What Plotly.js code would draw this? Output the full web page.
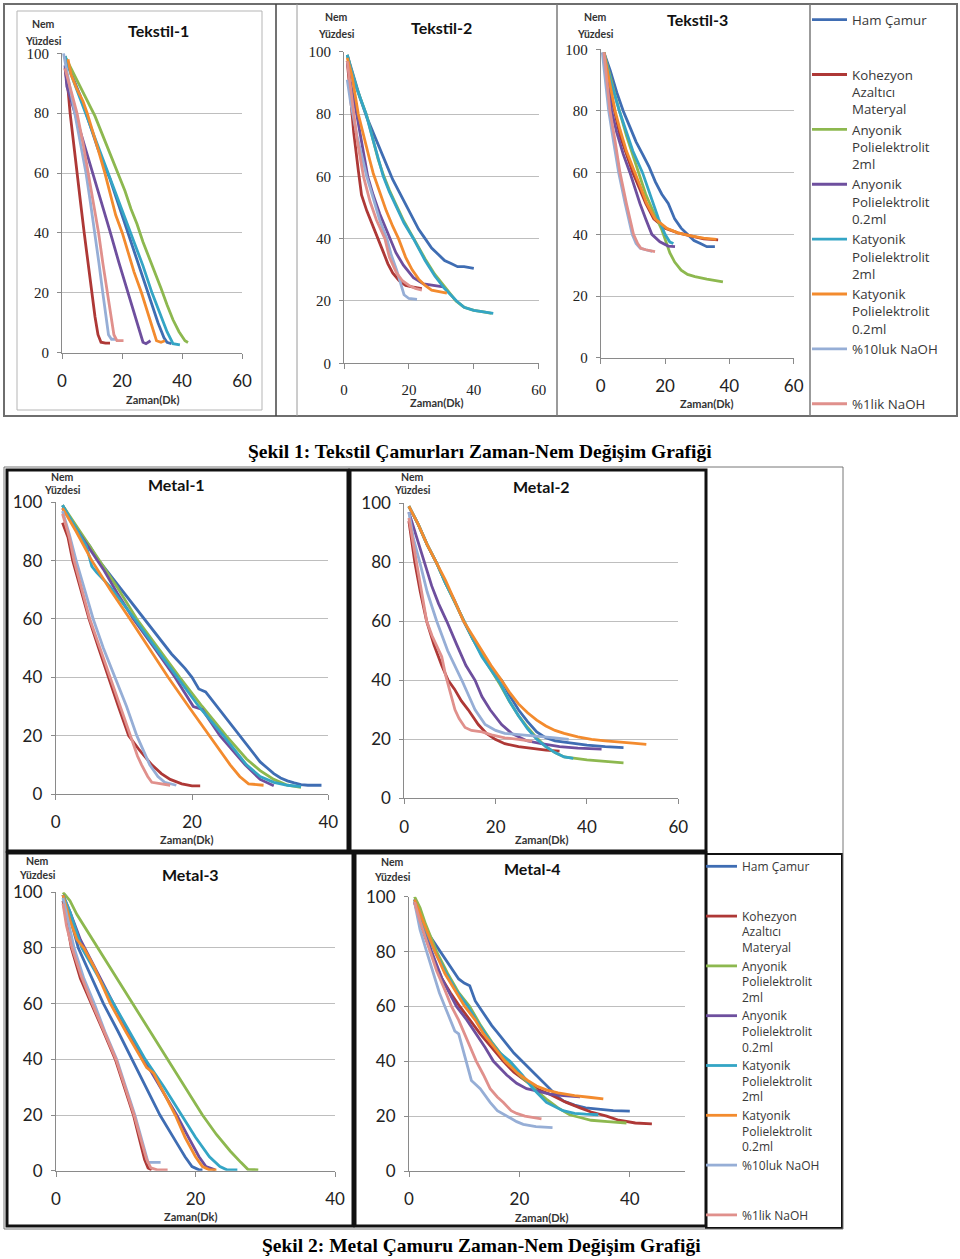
<!DOCTYPE html>
<html><head><meta charset="utf-8">
<script src="https://cdn.plot.ly/plotly-3.0.1.min.js"></script>
<style>html,body{margin:0;padding:0;background:#fff}#chart{width:960px;height:1259px}</style>
</head><body><div id="chart"></div>
<script>
// ---------- series / legend labels ----------
const seriesNames = ['Ham Çamur','Kohezyon Azaltıcı Materyal','Anyonik Polielektrolit 2ml','Anyonik Polielektrolit 0.2ml','Katyonik Polielektrolit 2ml','Katyonik Polielektrolit 0.2ml','%10luk NaOH','%1lik NaOH'];
const legendLabels = ['Ham Çamur<br> <br> ','Kohezyon<br>Azaltıcı<br>Materyal','Anyonik<br>Polielektrolit<br>2ml','Anyonik<br>Polielektrolit<br>0.2ml','Katyonik<br>Polielektrolit<br>2ml','Katyonik<br>Polielektrolit<br>0.2ml','%10luk NaOH<br> <br> ','%1lik NaOH'];
const seriesColors = ['#3F6DB3','#AE3836','#8DB84F','#6E4F9E','#34A5C5','#F38B2E','#96AED6','#E0908C'];
const panelTitles = ['Tekstil-1','Tekstil-2','Tekstil-3','Metal-1','Metal-2','Metal-3','Metal-4'];
const yTicks = [0,20,40,60,80,100];
const xTicks60 = [0,20,40,60];
const xTicks40 = [0,20,40];
const captions = ['Şekil 1: Tekstil Çamurları Zaman-Nem Değişim Grafiği','Şekil 2: Metal Çamuru Zaman-Nem Değişim Grafiği'];

// ---------- Tekstil-1 ----------
const t1_ham_x = [1,2,4,6,8,10,12,14,16,18,20,22,24,26,28,30,32,34,35,36.5];
const t1_ham_y = [99,96,91,86,80,74,68,63,58,52,46,40,34,28,22,16,10,5,3.5,3];
const t1_koh_x = [1,2,2.7,3.8,4.9,6.2,7.4,8.6,9.9,11,12,13,14.5,16];
const t1_koh_y = [95,88,80,70,60,50,40,30,20,12,6,3.5,3.2,3.2];
const t1_any2_x = [1,3,5,7,9,11,13,15,17,19,21,23,25,27,29,31,33,35,37,39,41,42];
const t1_any2_y = [99,95,91,87,83.5,79,74,69,64,59,54,48,43,37,32,27,21.5,16,11,7,4,3.4];
const t1_any02_x = [1,1.6,4,7,10,13,16,19,22,24,26,27,28,29.5];
const t1_any02_y = [96,89,81,71,61,51,40.5,30,20,13,6.5,3.5,3,4];
const t1_kat2_x = [1,3,6,9,12,15,18,21,24,27,30,33,35,37,39.3];
const t1_kat2_y = [99,93,85,77,69,61,53,45,37,29,20,12,7,3,2.6];
const t1_kat02_x = [2,3,5,7,8.4,10,12,14.3,16,17.9,20.1,22,24,26.5,28,30,31.5,33,34.3];
const t1_kat02_y = [98,93,88,84,80,75,68,60,53,46,40,34,27,20,15,9,4,3.5,4];
const t1_n10_x = [0.5,2,3,4.3,6,8,9.5,11,12.3,13.6,14.6,15.5,16.5,18.2];
const t1_n10_y = [100,92,86,80,70,60,50,40,30,20,12,6,4.5,4.5];
const t1_n1_x = [1,2.5,5,7,8.8,10.5,12.2,13.6,15.2,16.3,17.3,18.3,20.5];
const t1_n1_y = [95,89,80,70,60,50,40,30,20,12,6,4,4];

// ---------- Tekstil-2 ----------
const t2_ham_x = [1,3,5,7,9,11,13,15,17,19,21,23,25,27,29,31,33,35,37,40];
const t2_ham_y = [99,92,85,79,74,69,64,59,55,51,47,43,40,37,35,33,32,31,31,30.5];
const t2_koh_x = [1,2,3,4.4,5.4,7,9,10.6,12,13.5,15,17,19,21,24];
const t2_koh_y = [97,85,74,62,54,49,44,40,36,32,29,26.5,25,24.5,24];
const t2_any2_x = [1,2,4,7,9,10.5,12.3,14,16,18.5,21.5,25,28,31,34.5,37,40,43,45.5];
const t2_any2_y = [99,95,88,79.5,71.5,65.5,60,55.5,51,45.5,40,33.5,28.5,24.5,20,18,17,16.5,16];
const t2_any02_x = [1,2,3.9,5.5,7.3,9,11,13,14.2,16,18.3,21.4,24.5,27,30.6];
const t2_any02_y = [97,90,80,70,60,54,48,43,40,35.5,31.5,27.5,25.5,25,24.5];
const t2_kat2_x = [1,2,4,6.8,9,10.5,12.1,14,16,18.5,21.4,25,28,31,34.7,37,40,43,46];
const t2_kat2_y = [99,95,88,80,71.5,65.5,60,55,50.5,45,40,33,28,24,20,18,17,16.5,16];
const t2_kat02_x = [1,2.5,4.4,6,8,9,11,13,15,16.8,19,21,23,25,27,29,31.7];
const t2_kat02_y = [98,92,80,73,65,61,55,49,44,40,34,30,27,25,23.5,23,22.5];
const t2_n10_x = [1,2,4,5.5,7,9,11,13.2,14.5,16.2,17.5,18.5,20,22.5];
const t2_n10_y = [91,84,73,66,60,53,46,40,35,30,25,22,20.8,20.5];
const t2_n1_x = [1,2,4,6,8,10,12.6,14,16.2,18,20,22,24];
const t2_n1_y = [97,88,72,60,52,46,40,34,29,26.5,25,24,23.5];

// ---------- Tekstil-3 ----------
const t3_ham_x = [1,3,5,7,9,11,13,15,17,19,21,23,25,27,29,31,33,35.5];
const t3_ham_y = [99,93,86,80,75,70,66,62,57,53,50,45,42,40,38,37,36,36];
const t3_koh_x = [1,2,3,4.5,6,8,10,12,14,16.5,20,24,28,32,36.5];
const t3_koh_y = [98,92,86,79,72,66,60,55,50,45,42,40.5,39.5,38.5,38.2];
const t3_any2_x = [1,3,5,8,11.7,14,16.5,19,20.5,21.5,23,25,27,29.3,33,36,38];
const t3_any2_y = [99,91,83,72,60,53,47,41.5,37,34,31,28.4,27,26.3,25.5,25,24.6];
const t3_any02_x = [1,2,3.4,5,7,9.1,12.2,14,15.9,18.4,21,23.1];
const t3_any02_y = [98,90,80,73,66,60,50,45,40,37.6,36.2,36];
const t3_kat2_x = [1,3,5.8,8,10,13,16.4,18,20,21.5,22.6];
const t3_kat2_y = [99,90,80,73,67,60,50,45,40,37.5,37];
const t3_kat02_x = [1,2,3,4.5,6,8,10.7,12.5,14.3,16.9,20.5,24,28,32,36];
const t3_kat02_y = [99,94,88,80,74,67,60,55,50,45,42,40.5,39.5,38.8,38.4];
const t3_n10_x = [0.5,1.5,2.5,4,5.6,7.6,9.8,11,12.3,14,16];
const t3_n10_y = [99,90,80,70,60,50,40,37,35.5,35,34.5];
const t3_n1_x = [1,2,2.9,4.5,6,8,10.2,11.5,12.5,14,16.9];
const t3_n1_y = [99,88,80,70,60,50,40,37,35.5,35,34.4];

// ---------- Metal-1 ----------
const m1_ham_x = [1,2,3,4,5,6,7,8,9,10,11,12,13,14,15,16,17,18,19,20,21,22,23,24,25,26,27,28,29,30,31,32,33,34,35,36,37,39];
const m1_ham_y = [99,95,91,88,85,81,78,75,72,69,66,63,60,57,54,51,48,45.5,43,40,36,35,32,29,26,23,20,17,14,11,9,7,5.5,4.5,3.8,3.2,3,3];
const m1_koh_x = [1,1.8,2.5,3.5,4.9,6.3,7.7,9.2,10.7,12.3,14.1,15.5,16.8,18.5,20,21.2];
const m1_koh_y = [93,88,80,72,60,50,40,30,20,15,10,7,5,3.5,2.8,2.8];
const m1_any2_x = [1,3,5,7,9,11.9,15,18.2,21.5,25,28,30,32,34,36];
const m1_any2_y = [99,92,85,78,71,60,50,40,30,20,12,8,5,3,2.3];
const m1_any02_x = [1,3,5,7,9,11.4,14.5,17.5,20.2,21.5,24.1,27.8,30,32];
const m1_any02_y = [98,91,84,77,69,60,50,40,30,29,20,10,5,2.8];
const m1_kat2_x = [1,3,4.5,5.3,6,8,11.6,14.7,17.8,21,24.6,28,30,32,34,36];
const m1_kat2_y = [99,91,85,78,76,71,60,50,40,30,20,10,6,4,3,2.5];
const m1_kat02_x = [1,3,5.3,8,10.9,13.7,16.5,19.5,22.6,25.6,27,28.3,30.5];
const m1_kat02_y = [98,90,80,70,60,50,40,30,20,10,6,3.5,3];
const m1_n10_x = [1,2,3,4.2,5.5,7,8.7,10.4,11.9,12.8,13.8,15,16,17.7];
const m1_n10_y = [97,89,80,70,60,50,40,30,20,15,10,6,4,3];
const m1_n1_x = [1,2,2.7,4,5,6.5,8,9.4,10.9,12,12.6,13.5,14.1,16.8];
const m1_n1_y = [96,88,80,69,60,50,40,30,20,13,10,6,4,3];

// ---------- Metal-2 ----------
const m2_ham_x = [1,3,5,7,9,11,13,15,17,19,21.3,23,25,27,29,31,33,36,40,44,48];
const m2_ham_y = [99,93,86,80,73,67,60,54,49,44,40,35,30,26,22.5,20.5,19.5,18.8,18,17.5,17.2];
const m2_koh_x = [1,1.7,2.3,3.5,4.9,6.5,8.2,9.6,11,12.5,14,16.2,18,19.9,22,25,28,31,34];
const m2_koh_y = [94,87,80,70,60,52,45,40,37,33,30,25,22,20,18.5,17.5,16.8,16.3,16];
const m2_any2_x = [1,3,5,7,9,11,13,15,17,19,21,23,25,27,29,31,33,35,37,40,44,48];
const m2_any2_y = [99,93,86,80,73,66.5,60,54,48.5,43.5,38.5,33,28,24,20.5,17.5,15.5,14,13.5,13,12.5,12];
const m2_any02_x = [1,2,3,4.5,6,7.5,9.3,11.5,13.5,15.5,17,18.8,21.3,23.5,26.8,30,34,38,43.2];
const m2_any02_y = [97,92,87,80,72,66,60,52,45,40,34.5,30,25,22,19.5,18.5,17.5,17,16.7];
const m2_kat2_x = [1,3,5,7,9,11,13,15,17,19,21,23,25,27,29,31,33,35,37];
const m2_kat2_y = [99,93,86,80,73,66.5,60,54,48,43.5,39,33,28,23.5,20,17.5,15.5,14,13.5];
const m2_kat02_x = [1,3,5,7,9,11,13,15,17,19,21.3,23,25,27,29,31,33,35,38,41,44,47,50,53];
const m2_kat02_y = [99,93,86,80,74,67,60,55,50,45,40,36,32,29,26.5,24.5,23,22,20.8,20,19.5,19,18.7,18.3];
const m2_n10_x = [1,2,3.4,5,7.1,9.5,12.6,15.5,17.7,20,22,26,30,33,36];
const m2_n10_y = [97,88,80,70,60,50,40,30,25,23,22,21.5,21,20.5,20];
const m2_n1_x = [1,2,2.7,3.8,4.9,6.1,7,8.2,9,10,11.1,12,13.3,14.7,17,19.1,22,25,28];
const m2_n1_y = [95,86,80,70,60,55,52,48,42,36,30,27,24,23,22.5,21.5,20.5,20,19.3];

// ---------- Metal-3 ----------
const m3_ham_x = [1,2,3.2,5,6.8,8.9,10.9,13,14.9,17.3,18.5,19.5,20.5,21];
const m3_ham_y = [99,91,80,70,60,50,40,30,20,10,5,1.5,0.3,0.3];
const m3_koh_x = [1,1.5,2.2,3.5,5.1,6.8,8.5,9.8,11.1,12,12.7,13.2,13.7];
const m3_koh_y = [97,90,80,69,60,50,40,30,20,11,4,1,0.3];
const m3_any2_x = [1,2,3,5,7,9,11,13,15,17,19,21,23,25,26.5,27.5,29];
const m3_any2_y = [100,97,92,84,76,68,60,52,44,36,28,20,13,7,3,0.5,0.3];
const m3_any02_x = [1,2,3.5,6,8,10.3,12.6,15,17.3,19,20.5,21.5,22.8];
const m3_any02_y = [99,93,83,71,61,50,40,30,20,12,5,1.5,0.3];
const m3_kat2_x = [1,2,3.7,6,8.2,10.5,12.8,15.5,18,20,22,23.5,24.5,26];
const m3_kat2_y = [99,93,80,70,60,50,40,30,20,12,5,1.5,0.3,0.3];
const m3_kat02_x = [1,2,3,4,5.5,7.8,10,12.3,13,14,15.5,17.1,18.5,20,21,22,23];
const m3_kat02_y = [99,90,83,80,73,60,50,40,37,35,28,20,12,5,1.5,0.3,0.3];
const m3_n10_x = [1,2,2.6,4,5.5,7,8.7,10,11.3,12.2,12.8,13.2,15];
const m3_n10_y = [98,87,80,69,60,50,40,30,20,12,6,3,3];
const m3_n1_x = [1,1.5,2.3,3.6,5.2,6.9,8.6,9.9,11.2,12.2,13,13.6,14.5,16];
const m3_n1_y = [96,88,80,70,60,50,40,30,20,11,4,1,0.3,0.3];

// ---------- Metal-4 ----------
const m4_ham_x = [1,2,3,4,5,6,7,8,9,10,11,12,13,14,15,16,17,18,19,20,21,22,23,24,25,26,27,28,30,32,34,37,40];
const m4_ham_y = [99,92,88,85,82,79,76,73,70,68.5,67.5,62,59,56,53,50.5,48,45.5,43,41,39,37,35,33,31,29,27,25.5,24,23,22.5,22,21.8];
const m4_koh_x = [1,2,3,4.5,6,7.5,9.2,11,12.9,15,17.1,19,21,23.1,25.5,28.5,31,33,35.8,38,41,44];
const m4_koh_y = [98,91,85,77,70,65,60,55,50,45,40,36,33,30,28,25,23,21.5,20,18.5,17.5,17.2];
const m4_any2_x = [1,2,3,5,7,9,11,13,15,17.7,20,22.8,25,27,29.1,31,33,36,39.4];
const m4_any2_y = [100,96,90,80,72,65,60,53,47,40,35,30,26,23,20.5,19.5,18.5,18,17.5];
const m4_any02_x = [1,2,3,4.1,6,7.5,8.6,10.5,12.2,13.8,15.3,17.7,19.5,21.3,23.5,25.5,28,31];
const m4_any02_y = [98,92,87,80,70,64,60,55,50,45,40,35,32,30,29,28,27.5,27];
const m4_kat2_x = [1,2,3,4.7,6.5,8.5,10.7,12.5,14.5,16.5,18.3,20.5,22.5,24.9,27.9,30,32,34.3];
const m4_kat2_y = [99,93,88,80,73,66,60,54,48,43,40,35,30,25,22,21,20.7,20.5];
const m4_kat02_x = [1,2,3,4.7,6.5,8.3,10.1,12,13.5,15.5,17.4,19.5,21.5,23.1,25,27,30,33,35.2];
const m4_kat02_y = [99,94,89,80,72,66,60,55,50,45,40,36,33,31,29.5,28.5,27.5,26.8,26.3];
const m4_n10_x = [1,2,3.2,4.5,5.5,6.5,7.5,8.3,9,10.1,11.3,12.9,14.7,16,17.7,19.5,20.7,23,26];
const m4_n10_y = [98,88,80,72,65,60,55,51,50,42,33,30,25,22,20,18,17,16.2,15.8];
const m4_n1_x = [1,2,3,3.8,5,6.5,7.7,9,10.1,11.2,12.2,13.5,14.7,16,17.1,18.5,19.5,21,24];
const m4_n1_y = [98,91,85,80,73,66,60,55,50,45,40,35,30,27,25,22,21,20,19];

// ---------- layout helpers (pixel -> paper) ----------
const W = 960, H = 1259;
const PX = v => v / W;
const PY = v => 1 - v / H;
const SANS = 'Lato, "Open Sans", sans-serif';
const LEG = '"Open Sans", Lato, sans-serif';
const SERIF = '"Liberation Serif", "DejaVu Serif", serif';

const panels = [
  {series:[[t1_ham_x,t1_ham_y],[t1_koh_x,t1_koh_y],[t1_any2_x,t1_any2_y],[t1_any02_x,t1_any02_y],[t1_kat2_x,t1_kat2_y],[t1_kat02_x,t1_kat02_y],[t1_n10_x,t1_n10_y],[t1_n1_x,t1_n1_y]],
   xr:[0,60], xt:xTicks60, bx:[62,242], by:[53.3,352.7], xf:{family:SANS,size:17}, yf:{family:SERIF,size:15}, title:[158,31], nem:[43,24], ngap:17, zaman:[152,399], legend:'legend'},
  {series:[[t2_ham_x,t2_ham_y],[t2_koh_x,t2_koh_y],[t2_any2_x,t2_any2_y],[t2_any02_x,t2_any02_y],[t2_kat2_x,t2_kat2_y],[t2_kat02_x,t2_kat02_y],[t2_n10_x,t2_n10_y],[t2_n1_x,t2_n1_y]],
   xr:[0,60], xt:xTicks60, bx:[344,538.7], by:[51.7,363.3], xf:{family:SERIF,size:15}, yf:{family:SERIF,size:15}, title:[441,27], nem:[336,17], ngap:17, zaman:[436,403]},
  {series:[[t3_ham_x,t3_ham_y],[t3_koh_x,t3_koh_y],[t3_any2_x,t3_any2_y],[t3_any02_x,t3_any02_y],[t3_kat2_x,t3_kat2_y],[t3_kat02_x,t3_kat02_y],[t3_n10_x,t3_n10_y],[t3_n1_x,t3_n1_y]],
   xr:[0,60], xt:xTicks60, bx:[600.7,793.7], by:[49.3,357.7], xf:{family:SANS,size:17}, yf:{family:SERIF,size:15}, title:[697,20], nem:[595,17], ngap:17, zaman:[706,404]},
  {series:[[m1_ham_x,m1_ham_y],[m1_koh_x,m1_koh_y],[m1_any2_x,m1_any2_y],[m1_any02_x,m1_any02_y],[m1_kat2_x,m1_kat2_y],[m1_kat02_x,m1_kat02_y],[m1_n10_x,m1_n10_y],[m1_n1_x,m1_n1_y]],
   xr:[0,40], xt:xTicks40, bx:[55.7,328.3], by:[502.3,794], xf:{family:SANS,size:17}, yf:{family:SANS,size:17}, title:[176,484], nem:[62,477], ngap:13, zaman:[186,839], legend:'legend2'},
  {series:[[m2_ham_x,m2_ham_y],[m2_koh_x,m2_koh_y],[m2_any2_x,m2_any2_y],[m2_any02_x,m2_any02_y],[m2_kat2_x,m2_kat2_y],[m2_kat02_x,m2_kat02_y],[m2_n10_x,m2_n10_y],[m2_n1_x,m2_n1_y]],
   xr:[0,60], xt:xTicks60, bx:[404.3,678.3], by:[503.3,798.3], xf:{family:SANS,size:17}, yf:{family:SANS,size:17}, title:[541,486], nem:[412,477], ngap:13, zaman:[541,839]},
  {series:[[m3_ham_x,m3_ham_y],[m3_koh_x,m3_koh_y],[m3_any2_x,m3_any2_y],[m3_any02_x,m3_any02_y],[m3_kat2_x,m3_kat2_y],[m3_kat02_x,m3_kat02_y],[m3_n10_x,m3_n10_y],[m3_n1_x,m3_n1_y]],
   xr:[0,40], xt:xTicks40, bx:[56,335], by:[892.3,1170.7], xf:{family:SANS,size:17}, yf:{family:SANS,size:17}, title:[190,874], nem:[37,861], ngap:14, zaman:[190,1216]},
  {series:[[m4_ham_x,m4_ham_y],[m4_koh_x,m4_koh_y],[m4_any2_x,m4_any2_y],[m4_any02_x,m4_any02_y],[m4_kat2_x,m4_kat2_y],[m4_kat02_x,m4_kat02_y],[m4_n10_x,m4_n10_y],[m4_n1_x,m4_n1_y]],
   xr:[0,50], xt:xTicks40, bx:[409,685], by:[896.7,1171], xf:{family:SANS,size:17}, yf:{family:SANS,size:17}, title:[532,868], nem:[392,862], ngap:15, zaman:[541,1217]}
];

const traces = [];
const layout = {
  width: W, height: H, margin:{l:0,r:0,t:0,b:0}, paper_bgcolor:'#fff', plot_bgcolor:'rgba(0,0,0,0)',
  hovermode:false, showlegend:true, annotations:[], shapes:[],
  legend:{x:PX(807), y:PY(4.5), xanchor:'left', yanchor:'top', bgcolor:'rgba(0,0,0,0)', borderwidth:0,
          font:{family:LEG, size:13.3, color:'#383838'}, itemwidth:35, valign:'top', tracegroupgap:0, traceorder:'normal'},
  legend2:{x:PX(701), y:PY(852), xanchor:'left', yanchor:'top', bgcolor:'rgba(0,0,0,0)', borderwidth:0,
          font:{family:LEG, size:12, color:'#383838'}, itemwidth:31, valign:'top', tracegroupgap:0, traceorder:'normal'}
};

const GRID = '#BEBEBE', AXIS = '#8A8A8A';
panels.forEach((p, i) => {
  const id = i === 0 ? '' : String(i + 1);
  layout['xaxis' + id] = {
    domain:[PX(p.bx[0]), PX(p.bx[1])], range:p.xr, anchor:'y' + id, tickvals:p.xt,
    ticks:'outside', ticklen:5, tickcolor:AXIS, showline:true, linecolor:AXIS, linewidth:1,
    showgrid:false, zeroline:false, tickfont:Object.assign({color:'#222'}, p.xf), ticklabelstandoff:8, fixedrange:true
  };
  layout['yaxis' + id] = {
    domain:[PY(p.by[1]), PY(p.by[0])], range:[0,100], anchor:'x' + id, tickvals:yTicks,
    ticks:'outside', ticklen:4, tickcolor:AXIS, showline:true, linecolor:AXIS, linewidth:1,
    showgrid:true, gridcolor:GRID, gridwidth:1, zeroline:false, tickfont:Object.assign({color:'#222'}, p.yf), ticklabelstandoff:5, fixedrange:true
  };
  p.series.forEach((s, j) => {
    const t = {x:s[0], y:s[1], xaxis:'x' + id, yaxis:'y' + id, type:'scatter', mode:'lines',
      line:{color:seriesColors[j], width:2.8}, name:legendLabels[j], showlegend:!!p.legend};
    if (p.legend) t.legend = p.legend;
    traces.push(t);
  });
  const A = layout.annotations;
  A.push({text:panelTitles[i], x:PX(p.title[0]), y:PY(p.title[1]), xref:'paper', yref:'paper', xanchor:'center', yanchor:'middle', showarrow:false,
          font:{family:SANS, size:16, color:'#111', weight:'bold'}});
  A.push({text:'Nem', x:PX(p.nem[0]), y:PY(p.nem[1]), xref:'paper', yref:'paper', xanchor:'center', yanchor:'middle', showarrow:false,
          font:{family:SANS, size:10.5, color:'#333', weight:'bold'}});
  A.push({text:'Yüzdesi', x:PX(p.nem[0]), y:PY(p.nem[1] + p.ngap), xref:'paper', yref:'paper', xanchor:'center', yanchor:'middle', showarrow:false,
          font:{family:SANS, size:10.5, color:'#333', weight:'bold'}});
  A.push({text:'Zaman(Dk)', x:PX(p.zaman[0]), y:PY(p.zaman[1]), xref:'paper', yref:'paper', xanchor:'center', yanchor:'middle', showarrow:false,
          font:{family:SANS, size:11, color:'#333', weight:'bold'}});
});

layout.annotations.push({text:captions[0], x:PX(480), y:PY(452), xref:'paper', yref:'paper', xanchor:'center', yanchor:'middle', showarrow:false,
  font:{family:SERIF, size:19.5, color:'#000', weight:'bold'}});
layout.annotations.push({text:captions[1], x:PX(481), y:PY(1245), xref:'paper', yref:'paper', xanchor:'center', yanchor:'middle', showarrow:false,
  font:{family:SERIF, size:19.5, color:'#000', weight:'bold'}});

// frames
function rect(x0,y0,x1,y1,color,w){ layout.shapes.push({type:'rect', xref:'paper', yref:'paper', x0:PX(x0), x1:PX(x1), y0:PY(y0), y1:PY(y1), line:{color:color,width:w}, fillcolor:'rgba(0,0,0,0)', layer:'below'}); }
function vline(x,y0,y1,color,w){ layout.shapes.push({type:'line', xref:'paper', yref:'paper', x0:PX(x), x1:PX(x), y0:PY(y0), y1:PY(y1), line:{color:color,width:w}}); }
rect(4,4,957,416,'#6E6E6E',2);
rect(17,11,262,410,'#B5B5B5',1);
vline(276,4,416,'#444',1.5);
vline(297,4,416,'#9A9A9A',1);
vline(557,4,416,'#7A7A7A',1.5);
vline(810,4,416,'#7A7A7A',1.5);
rect(7,470,348,851,'#111',3);
rect(350,470,706,851,'#111',3);
rect(7,853,353,1226,'#111',3);
rect(355,853,706,1226,'#111',3);
rect(706,854,842,1228,'#111',2);
rect(4,467,843,1229,'#777',1);

Plotly.newPlot('chart', traces, layout, {staticPlot:true, displayModeBar:false});
</script>
</body></html>
